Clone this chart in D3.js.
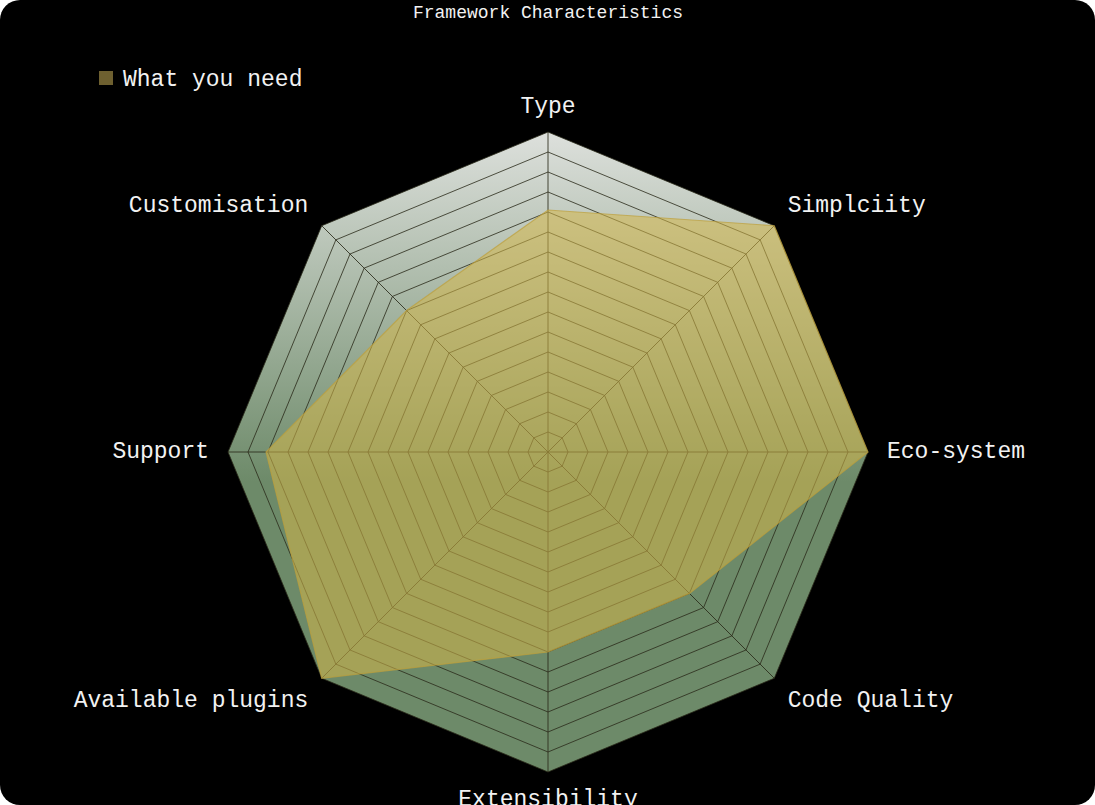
<!DOCTYPE html>
<html><head><meta charset="utf-8">
<script src="https://cdn.jsdelivr.net/npm/d3@7"></script>
<style>html,body{margin:0;padding:0;background:#fff;overflow:hidden}</style>
</head><body>
<script>
const axes = ["Type","Simplciity","Eco-system","Code Quality","Extensibility","Available plugins","Support","Customisation"];
const values = [12.1, 16, 16, 10, 10, 16, 14.1, 10];
const seriesName = "What you need";
const maxValue = 16;
const levels = 16;

const W = 1095, H = 805;
const cx = 548, cy = 452, R = 320;
const font = "'Liberation Mono','Courier New',monospace";

const svg = d3.select("body").append("svg").attr("width", W).attr("height", H);
svg.append("rect").attr("width", W).attr("height", H).attr("rx", 20).attr("ry", 20).attr("fill", "#000");

const defs = svg.append("defs");
const grad = defs.append("linearGradient").attr("id","bg").attr("gradientUnits","userSpaceOnUse")
  .attr("x1",0).attr("y1",cy-R).attr("x2",0).attr("y2",cy+30);
grad.append("stop").attr("offset","0%").attr("stop-color","#dde0dc");
grad.append("stop").attr("offset","100%").attr("stop-color","#6d8a69");

const r = d3.scaleLinear().domain([0, maxValue]).range([0, R]);
const angle = d3.scalePoint().domain(axes).range([0, 2*Math.PI*(axes.length-1)/axes.length]);
const pt = (a, v) => [cx + r(v)*Math.sin(angle(a)), cy - r(v)*Math.cos(angle(a))];

const g = svg.append("g");
g.append("polygon").attr("points", axes.map(a => pt(a, maxValue).join(",")).join(" "))
  .attr("fill","url(#bg)");

const ringVals = d3.range(1, levels+1).map(i => i*maxValue/levels);
g.selectAll("polygon.ring").data(ringVals).join("polygon").attr("class","ring")
  .attr("points", v => axes.map(a => pt(a, v).join(",")).join(" "))
  .attr("fill","none").attr("stroke","#2a2a1a").attr("stroke-opacity",0.8).attr("stroke-width",1);

g.selectAll("line.axis").data(axes).join("line").attr("class","axis")
  .attr("x1",cx).attr("y1",cy)
  .attr("x2", a => pt(a, maxValue)[0]).attr("y2", a => pt(a, maxValue)[1])
  .attr("stroke","#2a2a1a").attr("stroke-opacity",0.85).attr("stroke-width",1);

g.append("polygon").attr("points", axes.map((a,i) => pt(a, values[i]).join(",")).join(" "))
  .attr("fill","rgb(212,182,72)").attr("fill-opacity",0.55)
  .attr("stroke","rgb(190,160,60)").attr("stroke-opacity",0.7).attr("stroke-width",1.2);

const LR = 339;
g.selectAll("text.lab").data(axes).join("text").attr("class","lab")
  .attr("x", a => cx + LR*Math.sin(angle(a)))
  .attr("y", a => { const c = Math.cos(angle(a)); return cy - LR*c + (c > 0.01 ? -6 : c < -0.01 ? 9 : 0); })
  .attr("text-anchor", a => { const s = Math.sin(angle(a)); return s > 0.01 ? "start" : s < -0.01 ? "end" : "middle"; })
  .attr("dominant-baseline","central")
  .attr("font-family", font).attr("font-size", 23).attr("fill","#f2f2f2")
  .text(a => a);

svg.append("text").attr("x", cx).attr("y", 13).attr("text-anchor","middle").attr("dominant-baseline","central")
  .attr("font-family", font).attr("font-size", 18).attr("fill","#f2f2f2").text("Framework Characteristics");

const lg = svg.append("g").attr("transform","translate(99,71)");
lg.append("rect").attr("width",14).attr("height",14).attr("fill","#6e6030");
lg.append("text").attr("x",24).attr("y",9).attr("dominant-baseline","central")
  .attr("font-family", font).attr("font-size", 23).attr("fill","#f2f2f2").text(seriesName);
</script>
</body></html>
